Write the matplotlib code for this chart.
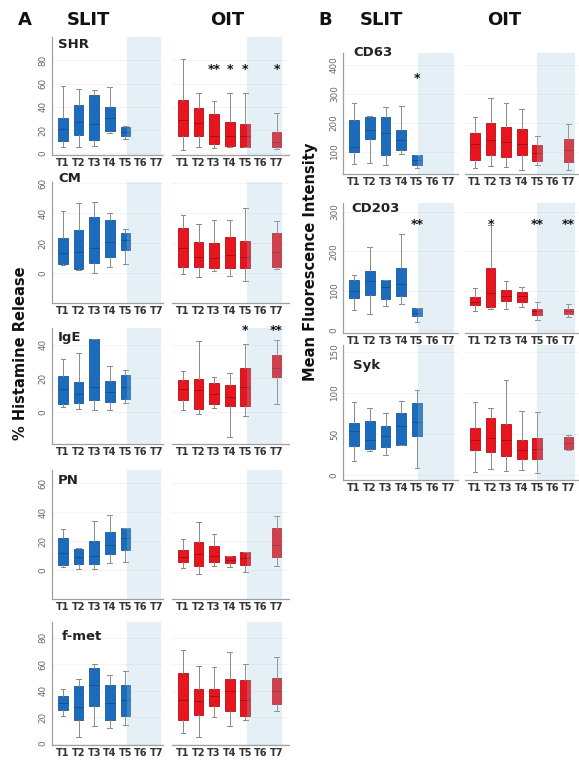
import matplotlib
matplotlib.use("Agg")
import matplotlib.pyplot as plt

W, H = 579, 762
fig = plt.figure(figsize=(W / 100, H / 100), dpi=100)

timepoints = ["T1", "T2", "T3", "T4", "T5", "T6", "T7"]
slit_pos = [1, 2, 3, 4, 5]
oit_pos = [1, 2, 3, 4, 5, 7]

# each tuple: (whisker low, Q1, median, Q3, whisker high)
shr_slit = [(5.7, 10.9, 21, 30, 57.7), (5, 15.7, 27, 41.4, 55.7), (6, 11, 25, 50, 54),
            (17, 19.4, 30, 40, 56.6), (12, 15, 18, 23, 23.5)]
shr_oit = [(3, 15, 28.6, 46, 81), (5.7, 15, 26, 38.6, 52), (4.3, 8, 15, 34, 45),
           (5.7, 6.3, 15, 26.6, 52), (5, 5.7, 15, 25, 52), (3.7, 5.7, 10, 18, 35)]
cm_slit = [(5.5, 6.2, 13.3, 23.8, 41.8), (2.2, 2.9, 14.4, 28.9, 47), (0.4, 6.7, 16.7, 37.8, 47.8),
           (4.4, 10.7, 21, 35.5, 40.4), (6, 15.5, 22, 27, 29.3)]
cm_oit = [(-0.7, 3.8, 17, 30.4, 38.9), (-2.7, 4, 11, 21, 33), (1.5, 3.3, 10, 20, 35.5),
          (-1.8, 3.3, 12, 24.4, 35.5), (-5, 3.3, 11, 21.5, 43.8), (2.7, 4, 14, 27, 35)]
ige_slit = [(3, 5, 14, 21.4, 31.4), (2, 5.4, 11, 18, 35), (1, 7, 15, 43.4, 43.4),
            (1, 6, 12, 18.4, 27.4), (5.4, 7.6, 15, 22, 25)]
ige_oit = [(1, 7, 14, 19, 24.4), (-1, 2, 13, 19.6, 42), (2.6, 5, 11, 17.4, 21),
           (-14.6, 3.4, 9, 16, 23.4), (-2.4, 3.4, 15, 26, 40.6), (4.6, 21, 26, 34, 42.6)]
pn_slit = [(1.8, 3.5, 11.5, 22, 28.4), (0.7, 3.9, 9, 14.5, 15), (0.7, 3.9, 10, 20, 34),
           (4.6, 10.8, 17, 26.5, 38), (5.8, 13.8, 22, 29.3, 29.3)]
pn_oit = [(1.2, 5.3, 9, 13.9, 21.2), (-2.8, 3, 11, 19, 33), (3, 5.3, 10, 16.8, 25),
          (2.3, 4.6, 7, 10, 10), (-1.6, 3.5, 8, 12.7, 12.7), (3, 9.2, 17, 28.9, 37)]
fmet_slit = [(20.7, 25.8, 30.8, 35.8, 41), (4.8, 18, 28, 43.4, 49), (13.6, 28.3, 44.7, 57.3, 60.4),
             (11.9, 17.7, 30.8, 44, 52), (14.4, 21.2, 33, 44.7, 55.3)]
fmet_oit = [(8, 18, 33, 53.5, 71), (4.8, 22, 32, 41.4, 58.6), (20, 28.3, 36, 41.4, 57.8),
            (13.6, 25, 39.6, 49, 69), (17.7, 20.7, 33, 48.5, 60.6), (24.5, 30, 39.6, 49.7, 65.4)]

cd63_slit = [(56.5, 100, 117, 210, 268), (62, 143, 175, 221, 224), (54, 89, 165, 221, 256),
             (92, 106, 140, 175, 258), (43, 54, 72, 89, 89)]
cd63_oit = [(43, 72, 125, 164, 221), (52, 89, 140, 198, 285), (46, 81, 135, 185, 268),
            (37, 89, 125, 178, 247), (54, 69, 95, 123, 155), (37, 66, 105, 143, 194)]
cd203_slit = [(50, 80, 100, 127, 139.6), (40, 89, 125, 149, 212), (61, 78, 108, 127, 127),
              (67, 87, 117, 157, 243), (19, 36, 44, 55, 55)]
cd203_oit = [(48.5, 63, 70, 83, 106), (53, 59, 95, 157, 266), (53, 74, 87, 101, 125),
             (57, 70, 87, 97, 110), (25, 37, 47, 53, 72), (31.5, 40, 47, 53, 67)]
syk_slit = [(17, 35, 53, 63, 89), (29, 32, 42.6, 66, 81), (24, 34, 48, 60, 75),
            (36.5, 36.5, 59.6, 76, 90), (9, 47, 65, 88, 103)]
syk_oit = [(4, 30, 42, 57, 89), (7, 27.6, 45, 69, 81), (5, 23, 42, 61.6, 116),
           (6, 20, 30, 43, 78), (3, 19.5, 32, 44.6, 77), (30, 32, 38.5, 45.8, 48.6)]

# significance marks: (timepoint, label) and the y level where they sit
shr_oit_stars = [(3, "**"), (4, "*"), (5, "*"), (7, "*")]
shr_star_y = 72
ige_oit_stars = [(5, "*"), (7, "**")]
ige_star_y = 48.5
cd63_slit_stars = [(5, "*")]
cd63_star_y = 352
cd203_slit_stars = [(5, "**")]
cd203_oit_stars = [(2, "*"), (5, "**"), (7, "**")]
cd203_star_y = 268

BLUE = dict(face="#1b6cbc", edge="#16589c", med="#164f88")
RED = dict(face="#e8141e", edge="#b40d15", med="#9c0c12")
SHADE = "#97c5d9"


def px_axes(left, right, top, bottom):
    return fig.add_axes([left / W, 1 - bottom / H, (right - left) / W, (bottom - top) / H])


def ftext(x, y, s, **kw):
    fig.text(x / W, 1 - y / H, s, **kw)


def draw(ax, pos, data, col, xlim, ylim, yticks, shade, show_y, stars=None, star_y=None):
    stats = [dict(whislo=a, q1=b, med=c, q3=d, whishi=e, fliers=[]) for a, b, c, d, e in data]
    ax.bxp(stats, positions=pos, widths=0.62, patch_artist=True, showfliers=False,
           boxprops=dict(facecolor=col["face"], edgecolor=col["edge"], linewidth=0.6),
           whiskerprops=dict(color="#8a8a8a", linewidth=0.7),
           capprops=dict(color="#8a8a8a", linewidth=0.7),
           medianprops=dict(color=col["med"], linewidth=0.6),
           capwidths=0.3, manage_ticks=False)
    ax.axvspan(shade[0], shade[1], color=SHADE, alpha=0.26, lw=0, zorder=5)
    ax.set_xlim(*xlim)
    ax.set_ylim(*ylim)
    ax.set_xticks(range(1, 8))
    ax.set_xticklabels(timepoints, fontsize=7, fontweight="bold", color="#333333")
    ax.tick_params(axis="x", length=0, pad=2.5)
    ax.set_yticks(yticks)
    ax.set_axisbelow(True)
    ax.yaxis.grid(True, color="#f0f0f0", linewidth=0.5)
    for s in ["top", "right"]:
        ax.spines[s].set_visible(False)
    ax.spines["bottom"].set_color("#a0a0a0")
    ax.spines["bottom"].set_linewidth(0.9)
    if show_y:
        ax.spines["left"].set_color("#a0a0a0")
        ax.spines["left"].set_linewidth(0.9)
        ax.tick_params(axis="y", length=0, pad=3, labelsize=6.3, labelcolor="#666666")
        for lab in ax.get_yticklabels():
            lab.set_rotation(90)
            lab.set_va("center")
    else:
        ax.spines["left"].set_visible(False)
        ax.tick_params(axis="y", left=False, labelleft=False)
    if stars:
        for t, s in stars:
            ax.text(t, star_y, s, ha="center", va="center", fontsize=9, fontweight="bold",
                    color="#111111", zorder=6)


# ---------- Panel A ----------
a_rows = [
    ("SHR", 37, 155, (-1.5, 100), [0, 20, 40, 60, 80], shr_slit, shr_oit, None, shr_oit_stars, shr_star_y, 58, 45),
    ("CM", 182, 303, (-20, 61), [0, 20, 40, 60], cm_slit, cm_oit, None, None, None, 58, 178),
    ("IgE", 328, 444, (-19, 50), [0, 20, 40], ige_slit, ige_oit, None, ige_oit_stars, ige_star_y, 58, 337),
    ("PN", 470, 599, (-20, 69), [0, 20, 40, 60], pn_slit, pn_oit, None, None, None, 58, 480),
    ("f-met", 622, 745, (-1, 92), [0, 20, 40, 60, 80], fmet_slit, fmet_oit, None, None, None, 62, 636),
]
for name, top, bot, ylim, yt, sd, od, sst, ost, sy, tx, ty in a_rows:
    ax1 = px_axes(52, 163, top, bot)
    draw(ax1, slit_pos, sd, BLUE, (0.3, 7.4), ylim, yt, (5.1, 7.3), True, sst, sy)
    ax2 = px_axes(172, 289, top, bot)
    draw(ax2, oit_pos, od, RED, (0.3, 7.8), ylim, yt, (5.1, 7.35), False, ost, sy)
    ftext(tx, ty, name, fontsize=9.5, fontweight="bold", color="#222222", va="center", ha="left")

# ---------- Panel B ----------
b_rows = [
    ("CD63", 53, 174, (23, 441), [100, 200, 300, 400], cd63_slit, cd63_oit, cd63_slit_stars, None, cd63_star_y, 353, 52),
    ("CD203", 203, 333, (-8, 323), [0, 100, 200, 300], cd203_slit, cd203_oit, cd203_slit_stars, cd203_oit_stars, cd203_star_y, 351, 208),
    ("Syk", 345, 480, (-6, 158), [0, 50, 100, 150], syk_slit, syk_oit, None, None, None, 353, 366),
]
for name, top, bot, ylim, yt, sd, od, sst, ost, sy, tx, ty in b_rows:
    ax1 = px_axes(343, 458, top, bot)
    draw(ax1, slit_pos, sd, BLUE, (0.3, 7.6), ylim, yt, (5.05, 7.35), True, sst, sy)
    ax2 = px_axes(465, 584, top, bot)
    draw(ax2, oit_pos, od, RED, (0.36, 8.0), ylim, yt, (5.0, 7.4), False, ost, sy)
    ftext(tx, ty, name, fontsize=9.5, fontweight="bold", color="#222222", va="center", ha="left")

# headers
ftext(18, 20, "A", fontsize=13, fontweight="bold", color="#111111", va="center", ha="left")
ftext(67, 20, "SLIT", fontsize=13, fontweight="bold", color="#111111", va="center", ha="left")
ftext(210, 20, "OIT", fontsize=13, fontweight="bold", color="#111111", va="center", ha="left")
ftext(318, 20, "B", fontsize=13, fontweight="bold", color="#111111", va="center", ha="left")
ftext(360, 20, "SLIT", fontsize=13, fontweight="bold", color="#111111", va="center", ha="left")
ftext(487, 20, "OIT", fontsize=13, fontweight="bold", color="#111111", va="center", ha="left")

# axis titles
ftext(21, 353, "% Histamine Release", fontsize=10.5, fontweight="bold", color="#111111",
      rotation=90, va="center", ha="center")
ftext(311, 262, "Mean Fluorescence Intensity", fontsize=10.5, fontweight="bold", color="#111111",
      rotation=90, va="center", ha="center")

fig.savefig("out.png", dpi=100)
